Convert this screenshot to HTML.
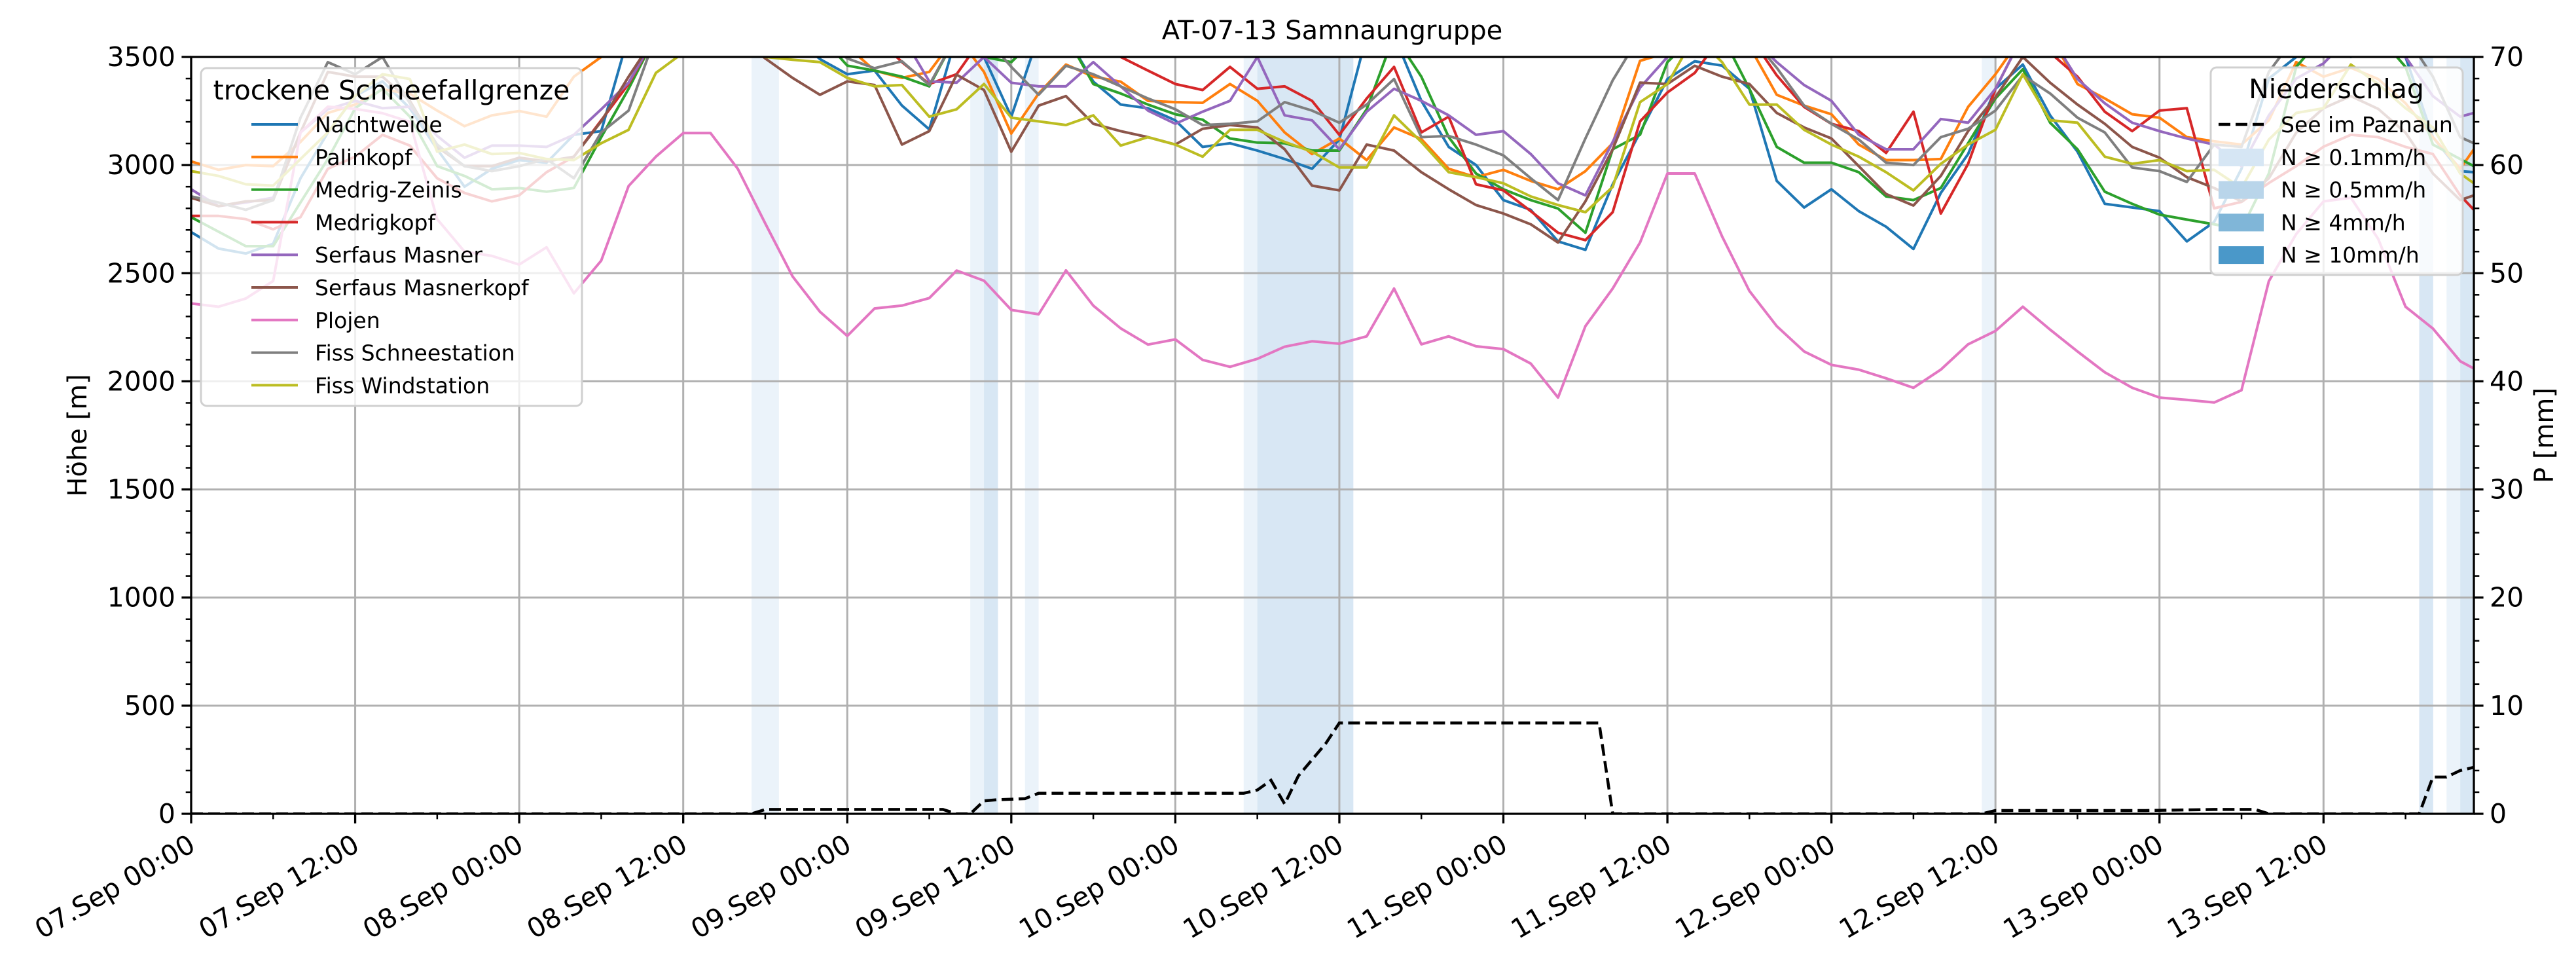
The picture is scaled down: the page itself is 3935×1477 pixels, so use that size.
<!DOCTYPE html>
<html><head><meta charset="utf-8"><style>
html,body{margin:0;padding:0;background:#fff;}
svg{display:block;font-family:"DejaVu Sans","Liberation Sans",sans-serif;}
</style></head><body>
<svg id="chart" width="3935" height="1477" viewBox="0 0 3935 1477" xmlns="http://www.w3.org/2000/svg">
<defs><clipPath id="plotclip"><rect x="292" y="87" width="3487" height="1156"/></clipPath></defs>
<rect x="0" y="0" width="3935" height="1477" fill="#fff"/>
<g id="bands" clip-path="url(#plotclip)"></g>
<g id="grid"></g>
<g id="series" clip-path="url(#plotclip)"></g>
<g id="axes"></g>
<text x="2035" y="60" font-size="40" text-anchor="middle">AT-07-13 Samnaungruppe</text>
<text transform="translate(132,665) rotate(-90)" font-size="40" text-anchor="middle">Höhe [m]</text>
<text transform="translate(3900,665) rotate(-90)" font-size="40" text-anchor="middle">P [mm]</text>
<g id="legend1"></g>
<g id="legend2"></g>
</svg>
<script>
// ---- data ----
const hours = [0,2,4,6,8,10,12,14,16,18,20,22,24,26,28,30,32,34,36,38,40,42,44,46,48,50,52,54,56,58,60,62,64,66,68,70,72,74,76,78,80,82,84,86,88,90,92,94,96,98,100,102,104,106,108,110,112,114,116,118,120,122,124,126,128,130,132,134,136,138,140,142,144,146,148,150,152,154,156,158,160,162,164,166,167];
const stationNames = ["Nachtweide","Palinkopf","Medrig-Zeinis","Medrigkopf","Serfaus Masner","Serfaus Masnerkopf","Plojen","Fiss Schneestation","Fiss Windstation"];
const nachtweide = [2690,2614,2591,2636,2939,3150,3320,3387,3263,3073,2900,2983,3023,3011,3140,3157,3600,3600,3600,3600,3600,3600,3600,3490,3420,3437,3275,3165,3600,3500,3224,3600,3600,3386,3280,3263,3207,3084,3101,3067,3028,2983,3118,3600,3600,3297,3084,3000,2838,2793,2647,2608,2911,3151,3398,3480,3460,3353,2927,2804,2888,2787,2715,2612,2871,3051,3353,3465,3230,3062,2821,2804,2787,2647,2737,2983,3400,3500,3600,3500,3600,3500,3129,2972,2967];
const palinkopf = [3017,2978,3000,2995,3107,3241,3280,3350,3330,3252,3180,3230,3250,3224,3409,3500,3600,3600,3600,3600,3600,3600,3600,3600,3550,3437,3403,3431,3600,3431,3146,3331,3465,3409,3386,3297,3291,3288,3375,3297,3151,3051,3123,3023,3174,3120,2983,2944,2978,2927,2888,2972,3101,3482,3520,3600,3600,3550,3325,3275,3235,3095,3023,3023,3028,3269,3420,3600,3600,3375,3308,3235,3219,3129,3110,3095,3207,3476,3409,3450,3398,3286,3129,2983,3073];
const medrigZeinis = [2759,2692,2625,2625,2827,3028,3263,3353,3224,2995,2950,2888,2894,2877,2894,3129,3353,3600,3600,3600,3600,3600,3600,3600,3460,3437,3409,3364,3600,3500,3476,3600,3600,3375,3331,3280,3235,3210,3123,3104,3101,3067,3067,3258,3600,3409,3129,2961,2888,2838,2799,2687,3073,3140,3476,3600,3600,3353,3084,3011,3011,2967,2855,2838,2894,3101,3308,3443,3196,3073,2877,2821,2771,2748,2726,2703,2961,3454,3600,3600,3600,3454,3095,3028,2995];
const medrigkopf = [2765,2765,2750,2703,2759,2983,3039,3140,3090,2939,2871,2832,2860,2967,3039,3207,3375,3600,3600,3600,3600,3600,3600,3600,3600,3600,3476,3375,3420,3600,3600,3600,3600,3600,3500,3437,3375,3347,3454,3353,3364,3297,3140,3308,3454,3151,3224,2911,2883,2787,2687,2653,2782,3202,3336,3426,3600,3600,3415,3269,3191,3157,3056,3247,2776,3006,3353,3600,3520,3409,3247,3157,3252,3263,2800,2830,2917,2995,3085,3140,3129,3084,3051,2860,2793];
const serfausMasner = [2888,2810,2827,2849,3151,3258,3297,3263,3270,3135,3034,3090,3090,3084,3140,3258,3381,3600,3600,3600,3600,3600,3600,3600,3600,3600,3600,3387,3381,3500,3381,3364,3364,3476,3364,3252,3191,3247,3297,3500,3230,3207,3073,3247,3353,3297,3230,3140,3157,3051,2916,2860,3107,3358,3500,3600,3600,3600,3476,3370,3297,3140,3073,3073,3213,3196,3353,3600,3600,3398,3286,3196,3157,3123,3095,2995,3230,3400,3470,3600,3600,3500,3319,3224,3241];
const serfausMasnerkopf = [2849,2810,2832,2838,3151,3431,3409,3409,3297,3084,2995,2995,3034,3017,3039,3202,3409,3600,3600,3600,3600,3493,3403,3325,3387,3370,3095,3157,3418,3347,3062,3275,3319,3191,3157,3129,3095,3168,3185,3174,3073,2905,2883,3095,3067,2967,2888,2815,2776,2726,2642,2832,3073,3381,3375,3459,3409,3375,3241,3174,3123,2995,2866,2813,2950,3157,3314,3500,3381,3280,3191,3084,3034,2944,2894,2832,2939,3150,3263,3319,3260,3150,2961,2838,2860];
const plojen = [2360,2345,2383,2464,3150,3270,3260,3240,3200,2750,2600,2580,2540,2620,2407,2558,2903,3039,3148,3148,2982,2730,2485,2322,2210,2337,2350,2385,2512,2465,2330,2310,2513,2350,2245,2170,2194,2099,2067,2104,2160,2185,2174,2208,2429,2171,2208,2162,2149,2082,1925,2255,2429,2642,2961,2961,2670,2418,2255,2138,2076,2054,2014,1970,2054,2171,2233,2345,2239,2138,2042,1970,1925,1914,1902,1959,2463,2681,2832,2849,2659,2345,2244,2093,2059];
const fissSchneestation = [2855,2827,2793,2838,3219,3476,3420,3500,3286,3095,2995,2972,2995,3028,2939,3151,3252,3600,3600,3600,3600,3600,3600,3600,3493,3448,3480,3370,3600,3600,3454,3325,3459,3420,3364,3308,3258,3185,3191,3202,3291,3252,3196,3280,3398,3129,3135,3095,3045,2939,2838,3123,3392,3600,3600,3600,3600,3600,3450,3275,3191,3118,3011,3000,3129,3168,3252,3415,3331,3219,3151,2989,2972,2922,3095,3084,3431,3600,3600,3600,3600,3600,3409,3129,3101];
const fissWindstation = [2972,2950,2911,2905,3028,3151,3320,3420,3398,3062,3095,3051,3056,3028,3023,3101,3163,3426,3520,3520,3520,3500,3487,3476,3403,3364,3370,3224,3258,3375,3219,3202,3185,3230,3090,3129,3095,3039,3163,3163,3107,3062,2989,2989,3230,3107,2967,2944,2916,2855,2815,2782,2899,3291,3375,3600,3476,3280,3280,3163,3095,3039,2967,2883,3006,3095,3163,3420,3207,3196,3039,3006,3023,2972,2978,2894,3118,3241,3263,3465,3375,3263,3174,2961,2916];
const precipHours = [0,41,42,55,56,57,58,59,61,62,77,78,79,80,81,83,84,103,104,131,132,143,148,151,152,163,164,165,166,167];
const precipValues = [0,0,0.4,0.4,0,0,1.2,1.3,1.4,1.9,1.9,2.2,3.1,0.9,3.5,6.5,8.4,8.4,0,0,0.3,0.3,0.4,0.4,0,0,3.4,3.4,4.0,4.3];
const lightBandHours = [41,42,57,61,77,131,165];
const mediumBandHours = [58,78,79,80,81,82,83,84,163,166];
const xTickHours = [0,12,24,36,48,60,72,84,96,108,120,132,144,156];
const xTickLabels = ["07.Sep 00:00","07.Sep 12:00","08.Sep 00:00","08.Sep 12:00","09.Sep 00:00","09.Sep 12:00","10.Sep 00:00","10.Sep 12:00","11.Sep 00:00","11.Sep 12:00","12.Sep 00:00","12.Sep 12:00","13.Sep 00:00","13.Sep 12:00"];
const yTicks = [0,500,1000,1500,2000,2500,3000,3500];
const y2Ticks = [0,10,20,30,40,50,60,70];
const precipLegendLabels = ["N ≥ 0.1mm/h","N ≥ 0.5mm/h","N ≥ 4mm/h","N ≥ 10mm/h"];

// ---- scales ----
const PL=292, PR=3779, PT=87, PB=1243, HMAX=167, YMAX=3500, Y2MAX=70;
const NS="http://www.w3.org/2000/svg";
function xs(h){return PL + h*(PR-PL)/HMAX;}
function ys(v){return PB - v*(PB-PT)/YMAX;}
function y2s(v){return PB - v*(PB-PT)/Y2MAX;}
function mk(tag, attrs, parent){const e=document.createElementNS(NS,tag);for(const k in attrs)e.setAttribute(k,attrs[k]);parent.appendChild(e);return e;}

const colors = ["#1f77b4","#ff7f0e","#2ca02c","#d62728","#9467bd","#8c564b","#e377c2","#7f7f7f","#bcbd22"];
const seriesList = [nachtweide,palinkopf,medrigZeinis,medrigkopf,serfausMasner,serfausMasnerkopf,plojen,fissSchneestation,fissWindstation];

// bands
const gB=document.getElementById('bands');
lightBandHours.forEach(h=>{
  const r=mk('rect',{x:xs(h),y:PT,width:xs(h+1)-xs(h),height:PB-PT,fill:'#ebf3fa'},gB);
  
  
});
mediumBandHours.forEach(h=>{
  const r=mk('rect',{x:xs(h),y:PT,width:xs(h+1)-xs(h)+0.5,height:PB-PT,fill:'#d8e7f4'},gB);
  
  
});

// grid
const gG=document.getElementById('grid');
xTickHours.forEach(h=>{
  const l=mk('line',{x1:xs(h),x2:xs(h),y1:PT,y2:PB,stroke:'#b0b0b0','stroke-width':3},gG);
  
  
});
yTicks.forEach(v=>{
  const l=mk('line',{x1:PL,x2:PR,y1:ys(v),y2:ys(v),stroke:'#b0b0b0','stroke-width':3},gG);
  
  
});

// series
const gS=document.getElementById('series');
seriesList.forEach((arr,i)=>{
  const d=arr.map((v,j)=>(j?'L':'M')+xs(hours[j]).toFixed(1)+','+ys(v).toFixed(1)).join(' ');
  const p=mk('path',{d:d,fill:'none',stroke:colors[i],'stroke-width':4,'stroke-linejoin':'round'},gS);
  
  
});
const pd=precipValues.map((v,j)=>(j?'L':'M')+xs(precipHours[j]).toFixed(1)+','+y2s(v).toFixed(1)).join(' ');
const pp=mk('path',{d:pd,fill:'none',stroke:'#000','stroke-width':4.5,'stroke-dasharray':'18 8'},gS);



// axes
const gA=document.getElementById('axes');
const frame=mk('rect',{x:PL,y:PT,width:PR-PL,height:PB-PT,fill:'none',stroke:'#000','stroke-width':3.3},gA);


for(let v=0;v<=YMAX;v+=100){
  const major=v%500===0;
  mk('line',{x1:PL-(major?14.6:8.3),x2:PL,y1:ys(v),y2:ys(v),stroke:'#000','stroke-width':major?3.3:2.5},gA);
}
yTicks.forEach(v=>{
  const t=mk('text',{x:PL-24,y:ys(v)+14,'font-size':41,'text-anchor':'end'},gA);
  t.textContent=String(v);
  
  
});
for(let v=0;v<=Y2MAX;v+=2){
  const major=v%10===0;
  mk('line',{x1:PR,x2:PR+(major?14.6:8.3),y1:y2s(v),y2:y2s(v),stroke:'#000','stroke-width':major?3.3:2.5},gA);
}
y2Ticks.forEach(v=>{
  const t=mk('text',{x:PR+24,y:y2s(v)+14,'font-size':41,'text-anchor':'start'},gA);
  t.textContent=String(v);
  
  
});
for(let h=0;h<=HMAX;h+=6){
  const major=h%12===0;
  mk('line',{x1:xs(h),x2:xs(h),y1:PB,y2:PB+(major?14.6:8.3),stroke:'#000','stroke-width':major?3.3:2.5},gA);
}
xTickHours.forEach((h,i)=>{
  const t=mk('text',{transform:'translate('+(xs(h)-6)+',1272) rotate(-30)','font-size':41,'text-anchor':'end',y:30},gA);
  t.textContent=xTickLabels[i];
  
  
});

// legend 1
const gL=document.getElementById('legend1');
const lb=mk('rect',{x:307,y:104,width:582,height:516,rx:9,fill:'rgba(255,255,255,0.8)',stroke:'#d0d0d0','stroke-width':3},gL);


const lt=mk('text',{x:598,y:152,'font-size':41,'text-anchor':'middle'},gL);
lt.textContent='trockene Schneefallgrenze';


stationNames.forEach((n,i)=>{
  const yy=190+i*49.8;
  const g=mk('g',{},gL);
  
  
  mk('line',{x1:384,x2:455,y1:yy,y2:yy,stroke:colors[i],'stroke-width':4},g);
  const t=mk('text',{x:481,y:yy+12,'font-size':33},g);
  t.textContent=n;
});

// legend 2
const gL2=document.getElementById('legend2');
const lb2=mk('rect',{x:3377,y:103,width:385,height:317,rx:9,fill:'rgba(255,255,255,0.8)',stroke:'#d0d0d0','stroke-width':3},gL2);


const lt2=mk('text',{x:3569,y:150,'font-size':41,'text-anchor':'middle'},gL2);
lt2.textContent='Niederschlag';


const e0=mk('g',{},gL2);


mk('line',{x1:3389,x2:3458,y1:190,y2:190,stroke:'#000','stroke-width':4.5,'stroke-dasharray':'18 8'},e0);
const t0=mk('text',{x:3484,y:202,'font-size':33},e0);
t0.textContent='See im Paznaun';
const patchColors=['#d6e6f4','#b9d5ea','#80b6d8','#4a98c9'];
precipLegendLabels.forEach((lab,i)=>{
  const yy=240+i*49.7;
  const g=mk('g',{},gL2);
  
  
  mk('rect',{x:3389,y:yy-13,width:69,height:27,fill:patchColors[i]},g);
  const t=mk('text',{x:3484,y:yy+12,'font-size':33},g);
  t.textContent=lab;
});
</script>
</body></html>
